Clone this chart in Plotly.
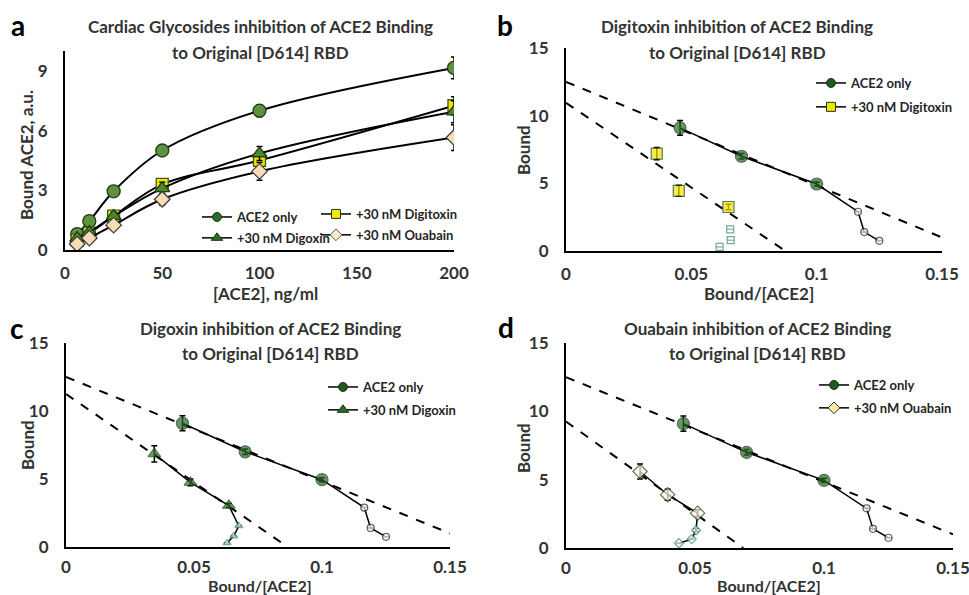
import plotly.graph_objects as go

W, H = 969, 595
def X(px): return px / W
def Y(py): return 1 - py / H

# ---------------- data ----------------
conc = [6.25, 12.5, 25, 50, 100, 200]
a_ace2 = [0.8, 1.45, 2.95, 5.0, 7.0, 9.15]
a_ace2_err = [0.15, 0.2, 0.2, 0.2, 0.3, 0.55]
a_digitoxin = [0.5, 0.85, 1.7, 3.3, 4.5, 7.25]
a_digitoxin_err = [0.1, 0.15, 0.2, 0.2, 0.35, 0.45]
a_digoxin = [0.6, 0.9, 1.7, 3.1, 4.85, 6.95]
a_digoxin_err = [0.1, 0.1, 0.2, 0.3, 0.35, 0.55]
a_ouabain = [0.3, 0.6, 1.25, 2.55, 3.95, 5.65]
a_ouabain_err = [0.1, 0.1, 0.15, 0.3, 0.45, 0.65]

sc_ace2_x = [0.0455, 0.07, 0.1, 0.1165, 0.119, 0.125]
sc_ace2_y = [9.1, 7.0, 4.95, 2.9, 1.4, 0.75]
sc_ace2_err = [0.55, 0.2, 0.15, 0, 0, 0]
fit_ace2_x = [0, 0.15]
fit_ace2_y = [12.5, 1.0]

b_dtx_x = [0.0362, 0.045, 0.0648, 0.0655, 0.0657, 0.0613]
b_dtx_y = [7.2, 4.45, 3.25, 1.6, 0.8, 0.3]
b_dtx_err = [0.45, 0.4, 0.2, 0, 0, 0]
b_fit_x = [0, 0.0875]
b_fit_y = [10.95, 0]

c_dgx_x = [0.0345, 0.0486, 0.0636, 0.0675, 0.0655, 0.0629]
c_dgx_y = [6.85, 4.75, 3.05, 1.55, 0.8, 0.3]
c_dgx_err = [0.6, 0.25, 0.15, 0, 0, 0]
c_fit_x = [0, 0.0866]
c_fit_y = [11.25, 0]

d_oua_x = [0.0287, 0.0394, 0.051, 0.0504, 0.0487, 0.0438]
d_oua_y = [5.6, 3.9, 2.55, 1.3, 0.65, 0.35]
d_oua_err = [0.55, 0.4, 0.25, 0.1, 0, 0]
d_fit_x = [0, 0.0687]
d_fit_y = [9.25, 0]

a_yticks = [0, 3, 6, 9]
a_xticks = [0, 50, 100, 150, 200]
sc_xticks = [0, 0.05, 0.1, 0.15]
sc_xticklabels = ["0", "0.05", "0.1", "0.15"]
sc_yticks = [0, 5, 10, 15]

# ---------------- styles ----------------
FONT = "Lato"
TXT = "#333333"
G_LIGHT = "#5f9140"
G_TRI = "#4d8a2e"
G_DARK = "#2a6a2a"
YEL = "#f2e600"
PEACH = "#f9dcb4"

fig = go.Figure()
_gid = [0]

def eb(arr):
    return dict(type="data", array=arr, visible=True, color="black", thickness=1.5, width=3)

def proxy(name, sym, col, lg, xa, ya, size=9, lcol="#1d3d10"):
    _gid[0] += 1
    fig.add_trace(go.Scatter(x=[None], y=[None], mode="lines+markers", name=name,
        line=dict(color="black", width=1.5),
        marker=dict(symbol=sym, size=size, color=col, line=dict(color=lcol, width=1)),
        xaxis=xa, yaxis=ya, legend=lg, legendgroup="g%d" % _gid[0], hoverinfo="skip"))

# Panel a
a_series = [
    ("ACE2 only", a_ace2, a_ace2_err, "circle", 13, G_LIGHT, "#1d3d10", "legend"),
    ("+30 nM Digitoxin", a_digitoxin, a_digitoxin_err, "square", 12, YEL, "#3a5a20", "legend2"),
    ("+30 nM Digoxin", a_digoxin, a_digoxin_err, "triangle-up", 13, G_TRI, "#1d3d10", "legend"),
    ("+30 nM Ouabain", a_ouabain, a_ouabain_err, "diamond", 12, PEACH, "#404040", "legend2"),
]
for nm, yv, ev, sym, sz, col, lcol, lg in a_series:
    fig.add_trace(go.Scatter(x=conc, y=yv, error_y=eb(ev), mode="lines+markers", name=nm,
        showlegend=False, line=dict(color="black", width=2, shape="spline", smoothing=1),
        marker=dict(symbol=sym, size=sz, color=col, line=dict(color=lcol, width=1.3)),
        xaxis="x", yaxis="y"))
proxy("ACE2 only", "circle", "#2f6a2a", "legend", "x", "y")
proxy("+30 nM Digoxin", "triangle-up", "#2f6a2a", "legend", "x", "y", size=10)
proxy("+30 nM Digitoxin", "square", YEL, "legend2", "x", "y")
proxy("+30 nM Ouabain", "diamond", "#fbeccc", "legend2", "x", "y", lcol="#606040")

def big_small(n_big, big, small):
    return [big] * n_big + [small] * (6 - n_big)

panels = [
    ("x2", "y2", "legend3", b_dtx_x, b_dtx_y, b_dtx_err, b_fit_x, b_fit_y,
     "+30 nM Digitoxin", "square", YEL, "markers", YEL),
    ("x3", "y3", "legend4", c_dgx_x, c_dgx_y, c_dgx_err, c_fit_x, c_fit_y,
     "+30 nM Digoxin", "triangle-up", G_DARK, "lines+markers", G_DARK),
    ("x4", "y4", "legend5", d_oua_x, d_oua_y, d_oua_err, d_fit_x, d_fit_y,
     "+30 nM Ouabain", "diamond", "#fffaf0", "lines+markers", "#fbe6b0"),
]
for xa, ya, lg, dx, dy, de, fx, fy, nm, sym, col, mode, lgcol in panels:
    fig.add_trace(go.Scatter(x=fit_ace2_x, y=fit_ace2_y, mode="lines", showlegend=False,
        line=dict(color="black", width=2, dash="dash"), xaxis=xa, yaxis=ya, hoverinfo="skip"))
    fig.add_trace(go.Scatter(x=fx, y=fy, mode="lines", showlegend=False,
        line=dict(color="black", width=2, dash="dash"), xaxis=xa, yaxis=ya, hoverinfo="skip"))
    fig.add_trace(go.Scatter(x=sc_ace2_x, y=sc_ace2_y, error_y=eb(sc_ace2_err), mode="lines+markers",
        name="ACE2 only", showlegend=False, line=dict(color="black", width=1.5),
        marker=dict(symbol="circle", size=big_small(3, 12, 7),
                    color=big_small(3, G_DARK, "white"),
                    line=dict(color="#0f2f0f", width=1.2)),
        xaxis=xa, yaxis=ya))
    fig.add_trace(go.Scatter(x=dx, y=dy, error_y=eb(de), mode=mode,
        name=nm, showlegend=False, line=dict(color="black", width=1.5),
        marker=dict(symbol=sym, size=big_small(3, 11, 7),
                    color=big_small(3, col, "white"),
                    line=dict(color=big_small(3, "#1d3d10", "#2f8f5f"), width=1.2)),
        xaxis=xa, yaxis=ya))
    proxy("ACE2 only", "circle", "#1f5a1f", lg, xa, ya)
    proxy(nm, sym, lgcol, lg, xa, ya, size=10 if sym == "triangle-up" else 9)

tickfont = dict(family=FONT, size=17, color=TXT, weight="bold")
axis_common = dict(showline=True, linecolor="black", linewidth=2, showgrid=False, zeroline=False,
                   ticks="", tickfont=tickfont, ticklabeloverflow="allow")

fig.update_layout(
    width=W, height=H, margin=dict(l=0, r=0, t=0, b=0, autoexpand=False),
    paper_bgcolor="white", plot_bgcolor="white",
    font=dict(family=FONT, color=TXT),
    xaxis=dict(domain=[X(65), X(454)], range=[0, 200], tickvals=a_xticks, anchor="y",
               ticklabelstandoff=7, **axis_common),
    yaxis=dict(domain=[Y(250), Y(51)], range=[0, 10], tickvals=a_yticks, anchor="x",
               ticklabelstandoff=12, **axis_common),
    xaxis2=dict(domain=[X(566), X(942)], range=[0, 0.15], tickvals=sc_xticks, ticktext=sc_xticklabels,
                anchor="y2", ticklabelstandoff=7, **axis_common),
    yaxis2=dict(domain=[Y(251), Y(48)], range=[0, 15], tickvals=sc_yticks, anchor="x2",
                ticklabelstandoff=12, **axis_common),
    xaxis3=dict(domain=[X(66), X(450)], range=[0, 0.15], tickvals=sc_xticks, ticktext=sc_xticklabels,
                anchor="y3", ticklabelstandoff=4, **axis_common),
    yaxis3=dict(domain=[Y(547), Y(343)], range=[0, 15], tickvals=sc_yticks, anchor="x3",
                ticklabelstandoff=12, **axis_common),
    xaxis4=dict(domain=[X(566), X(953)], range=[0, 0.15], tickvals=sc_xticks, ticktext=sc_xticklabels,
                anchor="y4", ticklabelstandoff=4, **axis_common),
    yaxis4=dict(domain=[Y(548), Y(343)], range=[0, 15], tickvals=sc_yticks, anchor="x4",
                ticklabelstandoff=12, **axis_common),
    showlegend=True,
)

legfont = dict(family=FONT, size=13, color="#262626", weight="bold")
def leg(px, py, gap):
    return dict(x=X(px), y=Y(py), xanchor="left", yanchor="top", bgcolor="rgba(0,0,0,0)",
                font=legfont, itemwidth=30, tracegroupgap=gap)
fig.update_layout(legend=leg(197, 202, 1), legend2=leg(316, 199, 1),
                  legend3=leg(811, 68, 4), legend4=leg(323, 372, 3), legend5=leg(814, 370, 3))

def ann(text, px, py, size=17, angle=0, color=TXT, weight="bold"):
    fig.add_annotation(text=text, x=X(px), y=Y(py), xref="paper", yref="paper", showarrow=False,
                       textangle=angle, font=dict(family=FONT, size=size, color=color, weight=weight),
                       xanchor="center", yanchor="middle")

# titles
ann("Cardiac Glycosides inhibition of ACE2 Binding", 260, 27)
ann("to Original [D614] RBD", 260, 52)
ann("Digitoxin inhibition of ACE2 Binding", 737, 27)
ann("to Original [D614] RBD", 737, 52)
ann("Digoxin inhibition of ACE2 Binding", 270, 328)
ann("to Original [D614] RBD", 270, 353)
ann("Ouabain inhibition of ACE2 Binding", 757, 328)
ann("to Original [D614] RBD", 757, 353)
# panel letters
ann("a", 18, 25, size=28, color="black")
ann("b", 505, 25, size=28, color="black")
ann("c", 17, 328, size=28, color="black")
ann("d", 506, 327, size=28, color="black")
# axis titles
ann("Bound ACE2, a.u.", 27, 155, angle=-90)
ann("[ACE2], ng/ml", 265, 293)
ann("Bound", 523, 150, angle=-90)
ann("Bound/[ACE2]", 759, 293)
ann("Bound", 27, 445, angle=-90)
ann("Bound/[ACE2]", 260, 585, size=16)
ann("Bound", 523, 448, angle=-90)
ann("Bound/[ACE2]", 769, 585, size=16)

fig.write_html("out.html", config={"displayModeBar": False},
               post_script="document.body.style.margin='0';")
